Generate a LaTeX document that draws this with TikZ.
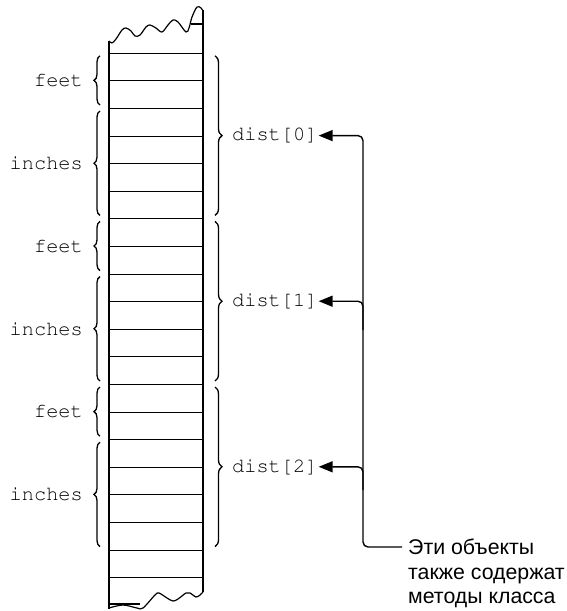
\documentclass[tikz,border=0pt]{standalone}
\usepackage[T1]{fontenc}
\usepackage{fontspec}
\setmainfont{Liberation Sans}
\usetikzlibrary{arrows.meta,decorations.pathreplacing}
\newcommand\courfont{\fontencoding{T1}\fontfamily{pcr}\fontsize{20.3}{24}\selectfont}
\tikzset{
  col/.style={line width=1.2pt, line join=round},
  lbrace/.style={line width=1.3pt, decorate, decoration={brace, amplitude=6pt}},
  rbrace/.style={line width=1.3pt, decorate, decoration={brace, amplitude=7pt}},
  lbl/.style={font=\courfont, inner sep=1pt},
  conn/.style={line width=1.4pt, rounded corners=5pt},
  tip/.style={-{Triangle[length=14pt,width=11pt]}},
  note/.style={font=\fontsize{21.3}{24.5}\selectfont, align=left, inner sep=0pt}
}
\begin{document}
\begin{tikzpicture}[x=1pt,y=-1pt]
\useasboundingbox (0,0) rectangle (566,611);
% column
\draw[col] (109,41) -- (109,609);
\draw[col] (203,10) -- (203,592);
\foreach \k in {0,...,19} {
  \pgfmathsetmacro\yy{round(52.8+27.6*\k)+0.5}
  \draw[col] (109,\yy) -- (203,\yy);
}
% top torn edge
\draw[col] plot[smooth, tension=0.55] coordinates {(109,41) (112,43) (116,39) (122,30) (126,28) (131,31) (135,36) (140,35) (146,27) (150,25) (156,28) (162,32) (168,25) (173,20) (178,22) (186,32) (189,28) (192,17) (197,7) (201,8) (203,11)};
\draw[col] (191,24) -- (203,24);
% bottom torn edge
\draw[col] plot[smooth, tension=0.55] coordinates {(109,608) (123,605) (137,608) (143,608) (155,595) (159,593) (167,598) (173,601) (178,599) (186,593) (190,593) (196,597) (200,595) (203,592)};
\draw[col] (109,604) -- (140,604);
% objects
\foreach \i in {0,1,2} {
  \pgfmathsetmacro\yo{52.8+165.6*\i}
  % left braces
  \draw[lbrace] (100,\yo+52.2) -- (100,\yo+3);
  \draw[lbrace] (100,\yo+162.6) -- (100,\yo+58.2);
  \node[lbl, anchor=east] (feet\i) at (84,\yo+27.6) {feet};
  \node[lbl, anchor=east] (inch\i) at (84,\yo+110.4) {inches};
  % right brace
  \draw[rbrace] (215,\yo+3) -- (215,\yo+162.6);
  \node[lbl, anchor=west] (d\i) at (231,\yo+82.8) {dist[\i]};
}
% note and connectors
\node[note, anchor=north west] (note) at (408,539) {Эти объекты\\также содержат\\методы класса};
\coordinate (nt) at (402,547);
\draw[conn, tip] (nt) -| (363,135.6) -- (d0.east);
\draw[conn, tip] (363,330) |- (d1.east);
\draw[conn, tip] (363,490) |- (d2.east);
\end{tikzpicture}
\end{document}
